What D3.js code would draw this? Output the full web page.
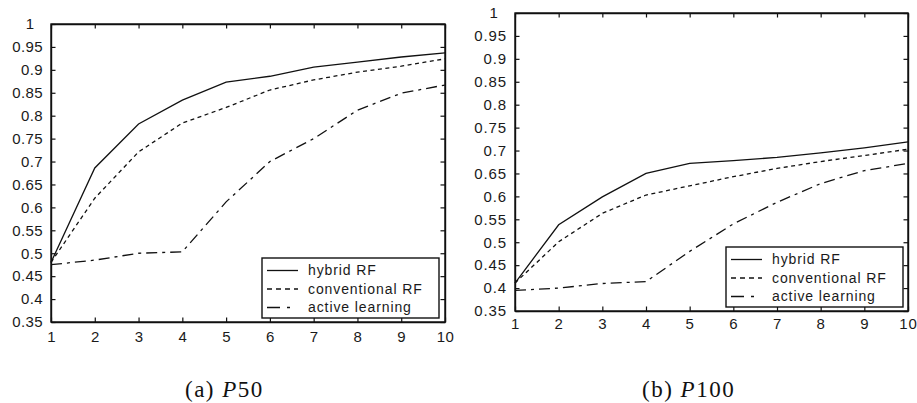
<!DOCTYPE html>
<html><head><meta charset="utf-8">
<script src="https://cdn.jsdelivr.net/npm/d3@7/dist/d3.min.js"></script>
<style>html,body{margin:0;padding:0;background:#fff;overflow:hidden}</style>
</head><body>
<svg id="c" width="917" height="403"></svg>
<script>
// ---- data ----
const rounds = [1,2,3,4,5,6,7,8,9,10];
const yTicks = [0.35,0.4,0.45,0.5,0.55,0.6,0.65,0.7,0.75,0.8,0.85,0.9,0.95,1];
const yTickLabels = ["0.35","0.4","0.45","0.5","0.55","0.6","0.65","0.7","0.75","0.8","0.85","0.9","0.95","1"];
const xTickLabels = ["1","2","3","4","5","6","7","8","9","10"];
const seriesNames = ["hybrid RF","conventional RF","active learning"];
const p50Hybrid = [0.48,0.686,0.782,0.834,0.873,0.886,0.906,0.917,0.928,0.937];
const p50Conv   = [0.48,0.62,0.721,0.784,0.818,0.856,0.878,0.895,0.908,0.924];
const p50Active = [0.475,0.485,0.50,0.503,0.612,0.70,0.75,0.812,0.849,0.867];
const p100Hybrid = [0.411,0.538,0.599,0.650,0.672,0.678,0.685,0.695,0.706,0.719];
const p100Conv   = [0.411,0.501,0.563,0.603,0.623,0.643,0.661,0.676,0.689,0.703];
const p100Active = [0.395,0.40,0.41,0.414,0.48,0.54,0.587,0.628,0.656,0.672];
const captions = [["(a) ","P","50"],["(b) ","P","100"]];

// ---- layout ----
const svg = d3.select("#c");
const SANS = "'Liberation Sans', Arial, sans-serif";
const SERIF = "'Liberation Serif', 'Times New Roman', serif";
const dashes = [null, "4,3.5", "11,5,3,5"];
const panels = [
  {x0:51, x1:445, y0:24, y1:322, data:[p50Hybrid,p50Conv,p50Active], leg:{x:262,y:258,w:177,h:60}, cap:{x:185}, font:15, ls:0.4},
  {x0:515, x1:908, y0:13, y1:311, data:[p100Hybrid,p100Conv,p100Active], leg:{x:726,y:247,w:177,h:60}, cap:{x:642}, font:15, ls:0.9}
];

panels.forEach((p, pi) => {
  const x = d3.scaleLinear().domain([1,10]).range([p.x0,p.x1]);
  const y = d3.scaleLinear().domain([0.35,1]).range([p.y1,p.y0]);
  const g = svg.append("g");
  const tl = 4.5;

  const xb = d3.axisBottom(x).tickValues(rounds).tickFormat((d,i)=>xTickLabels[i]).tickSizeInner(-tl).tickSizeOuter(0).tickPadding(10);
  const ga = g.append("g").attr("transform",`translate(0,${p.y1})`).call(xb);
  const xt = d3.axisTop(x).tickValues(rounds).tickFormat("").tickSizeInner(-tl).tickSizeOuter(0);
  const gt = g.append("g").attr("transform",`translate(0,${p.y0})`).call(xt);
  const yl = d3.axisLeft(y).tickValues(yTicks).tickFormat((d,i)=>yTickLabels[i]).tickSizeInner(-tl).tickSizeOuter(0).tickPadding(8);
  const gl = g.append("g").attr("transform",`translate(${p.x0},0)`).call(yl);
  const yr = d3.axisRight(y).tickValues(yTicks).tickFormat("").tickSizeInner(-tl).tickSizeOuter(0);
  const gr = g.append("g").attr("transform",`translate(${p.x1},0)`).call(yr);
  [ga,gt,gl,gr].forEach(a=>{
    a.select(".domain").attr("stroke","#111").attr("stroke-width",1.4);
    a.selectAll(".tick line").attr("stroke","#111").attr("stroke-width",1.2);
    a.selectAll("text").attr("font-family",SANS).attr("font-size",p.font).attr("letter-spacing",p.ls).attr("fill","#1a1a1a");
  });
  ga.selectAll("text").attr("dy","0.71em").attr("y", pi===0?9:7);
  gl.selectAll(".tick").filter(d=>d===1).select("text").attr("text-anchor","middle").attr("x",-21);
  g.append("rect").attr("x",p.x0).attr("y",p.y0).attr("width",p.x1-p.x0).attr("height",p.y1-p.y0)
    .attr("fill","none").attr("stroke","#111").attr("stroke-width",1.4);

  const line = d3.line().x((d,i)=>x(rounds[i])).y(d=>y(d));
  p.data.forEach((s,si)=>{
    g.append("path").datum(s).attr("d",line).attr("fill","none").attr("stroke","#111")
      .attr("stroke-width",1.3).attr("stroke-dasharray",dashes[si]);
  });

  const L = p.leg;
  g.append("rect").attr("x",L.x).attr("y",L.y).attr("width",L.w).attr("height",L.h)
    .attr("fill","#fff").attr("stroke","#111").attr("stroke-width",1.4);
  const rowY = [L.y+12.5, L.y+31, L.y+49.5];
  seriesNames.forEach((n,si)=>{
    g.append("line").attr("x1",L.x+5).attr("x2",L.x+36).attr("y1",rowY[si]).attr("y2",rowY[si])
      .attr("stroke","#111").attr("stroke-width",1.3).attr("stroke-dasharray",si===0?null:(si===1?"5,4":"13,7,3,8"));
    g.append("text").attr("x",L.x+46).attr("y",rowY[si]).attr("dy","0.35em")
      .attr("font-family",SANS).attr("font-size",14).attr("letter-spacing",0.9)
      .attr("fill","#1a1a1a").text(n);
  });

  const c = captions[pi];
  const t = svg.append("text").attr("x",p.cap.x).attr("y",397)
    .attr("font-family",SERIF).attr("font-size",23).attr("letter-spacing",1.5).attr("fill","#111");
  t.append("tspan").text(c[0]);
  t.append("tspan").attr("font-style","italic").text(c[1]);
  t.append("tspan").text(c[2]);
});
</script>
</body></html>
